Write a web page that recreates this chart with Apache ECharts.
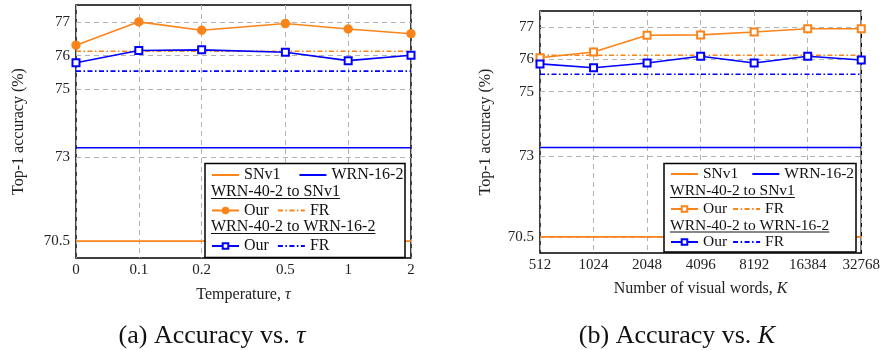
<!DOCTYPE html>
<html><head><meta charset="utf-8">
<script src="https://cdn.jsdelivr.net/npm/echarts@6/dist/echarts.min.js"></script>
<style>html,body{margin:0;padding:0;background:#fff}#c{width:883px;height:350px}</style>
</head><body><div id="c"></div>
<script>
// ---- data ----
const tauLabels = ['0', '0.1', '0.2', '0.5', '1', '2'];
const tauPos = [0, 1, 2, 10/3, 13/3, 16/3];
const kLabels = ['512', '1024', '2048', '4096', '8192', '16384', '32768'];
const kPos = [0, 1, 2, 3, 4, 5, 6];
const yTicks = [70.5, 73, 75, 76, 77];

const snv1 = 70.5;
const wrn162 = 73.27;
const frSnv1 = 76.13;
const frWrn = 75.54;

const ourSnv1Tau = [76.31, 77.0, 76.75, 76.95, 76.79, 76.65];
const ourWrnTau  = [75.79, 76.15, 76.17, 76.10, 75.85, 76.01];
const ourSnv1K = [76.05, 76.23, 76.75, 76.76, 76.85, 76.95, 76.95];
const ourWrnK  = [75.86, 75.74, 75.89, 76.10, 75.89, 76.10, 75.98];

// ---- style ----
const FONT = 'Liberation Serif';
const ORANGE = '#fa8419';
const BLUE = '#0000ff';
const DASHDOT = [5, 2.5, 1.5, 2.5];
const GRIDC = '#b2b2b2';

const chart = echarts.init(document.getElementById('c'), null, {renderer: 'canvas'});

function yAxisCfg(gridIndex, nameGap) {
  return {
    type: 'value', gridIndex, min: 70, max: 77.5,
    name: 'Top-1 accuracy (%)', nameLocation: 'middle', nameGap,
    nameTextStyle: {fontFamily: FONT, fontSize: 16, color: '#222'},
    axisLine: {show: false},
    axisTick: {show: false, customValues: yTicks},
    axisLabel: {customValues: yTicks, fontFamily: FONT, fontSize: 15, color: '#222', margin: 6},
    splitLine: {show: true, lineStyle: {type: [5, 4], color: GRIDC, width: 1}}
  };
}

function xAxisCfg(gridIndex, pos, labels, name, nameGap) {
  return {
    type: 'value', gridIndex, min: pos[0], max: pos[pos.length - 1],
    name, nameLocation: 'middle', nameGap,
    nameTextStyle: {fontFamily: FONT, fontSize: 16, color: '#222', rich: {i: {fontFamily: FONT, fontSize: 16, fontStyle: 'italic', color: '#222'}}},
    axisLine: {show: false},
    axisTick: {show: false, customValues: pos},
    axisLabel: {customValues: pos, fontFamily: FONT, fontSize: 15, color: '#222', margin: 5,
      formatter: v => { let b = 0; pos.forEach((p, i) => { if (Math.abs(p - v) < Math.abs(pos[b] - v)) b = i; }); return labels[b]; }},
    splitLine: {show: true, lineStyle: {type: [5, 4], color: GRIDC, width: 1}}
  };
}

function flatLine(xs, v) { return [[xs[0], v], [xs[xs.length - 1], v]]; }

function seriesSet(prefix, xi, xs, ourS, ourW, sSym) {
  const base = {type: 'line', xAxisIndex: xi, yAxisIndex: xi, clip: false, silent: true, animation: false};
  const pairs = arr => arr.map((v, i) => [xs[i], v]);
  return [
    Object.assign({}, base, {name: prefix + '|SNv1', data: flatLine(xs, snv1), symbol: 'none', lineStyle: {color: ORANGE, width: 1.6}, itemStyle: {color: ORANGE}}),
    Object.assign({}, base, {name: prefix + '|WRN-16-2', data: flatLine(xs, wrn162), symbol: 'none', lineStyle: {color: BLUE, width: 1.6}, itemStyle: {color: BLUE}}),
    Object.assign({}, base, {name: prefix + '|FR-S', data: flatLine(xs, frSnv1), symbol: 'none', lineStyle: {color: ORANGE, width: 1.6, type: DASHDOT}, itemStyle: {color: ORANGE}}),
    Object.assign({}, base, {name: prefix + '|FR-W', data: flatLine(xs, frWrn), symbol: 'none', lineStyle: {color: BLUE, width: 1.6, type: DASHDOT}, itemStyle: {color: BLUE}}),
    Object.assign({}, base, {name: prefix + '|Our-S', data: pairs(ourS), symbol: sSym, symbolSize: sSym === 'circle' ? 8 : 7,
      lineStyle: {color: ORANGE, width: 1.6}, itemStyle: {color: ORANGE, borderColor: ORANGE, borderWidth: 1.4}, z: 4}),
    Object.assign({}, base, {name: prefix + '|Our-W', data: pairs(ourW), symbol: 'emptyRect', symbolSize: 7,
      lineStyle: {color: BLUE, width: 1.6}, itemStyle: {color: BLUE, borderColor: BLUE, borderWidth: 1.4}, z: 4})
  ];
}

const labelOf = n => {
  const k = n.split('|')[1];
  return ({'SNv1': 'SNv1', 'WRN-16-2': 'WRN-16-2', 'FR-S': 'FR', 'FR-W': 'FR', 'Our-S': 'Our', 'Our-W': 'Our'})[k];
};

function mkLegend(names, left, cy, gap, fs) {
  return {
    data: names.map(n => /Our/.test(n) ? {name: n} : {name: n, itemStyle: {opacity: 0}}),
    left, top: cy - 8, orient: 'horizontal', padding: 0,
    itemWidth: 27, itemHeight: 7, itemGap: gap, selectedMode: false, z: 10,
    textStyle: {fontFamily: FONT, fontSize: fs, lineHeight: 16, color: '#111'},
    formatter: labelOf
  };
}

// measure text for underlines
const mctx = document.createElement('canvas').getContext('2d');
function tw(t, fs) { mctx.font = fs + 'px "' + FONT + '"'; return mctx.measureText(t).width; }

function legendGraphics(box, x, y2, y4, fs) {
  const els = [];
  els.push({type: 'rect', shape: {x: box[0], y: box[1], width: box[2], height: box[3]},
    style: {fill: '#fff', stroke: '#000', lineWidth: 1.5}, z: 8, silent: true});
  [[y2, 'WRN-40-2 to SNv1'], [y4, 'WRN-40-2 to WRN-16-2']].forEach(([cy, t]) => {
    els.push({type: 'text', x, y: cy, style: {text: t, fontFamily: FONT, fontSize: fs, fill: '#111', verticalAlign: 'middle', align: 'left'}, z: 11, silent: true});
    els.push({type: 'line', shape: {x1: x, y1: cy + 6.5, x2: x + tw(t, fs), y2: cy + 6.5}, style: {stroke: '#111', lineWidth: 1}, z: 11, silent: true});
  });
  return els;
}

const option = {
  animation: false,
  backgroundColor: '#fff',
  grid: [
    {left: 76, top: 5, width: 335, height: 253, show: true, borderColor: '#000', borderWidth: 1.5, backgroundColor: 'transparent'},
    {left: 540, top: 11, width: 323, height: 242, show: true, borderColor: '#000', borderWidth: 1.5, backgroundColor: 'transparent'}
  ],
  xAxis: [
    xAxisCfg(0, tauPos, tauLabels, 'Temperature, {i|τ}', 29),
    xAxisCfg(1, kPos, kLabels, 'Number of visual words, {i|K}', 28)
  ],
  yAxis: [yAxisCfg(0, 49), yAxisCfg(1, 46)],
  legend: [
    mkLegend(['a|SNv1', 'a|WRN-16-2'], 211, 175, 18, 16),
    mkLegend(['a|Our-S', 'a|FR-S'], 211, 210.5, 8, 16),
    mkLegend(['a|Our-W', 'a|FR-W'], 211, 246, 8, 16),
    mkLegend(['b|SNv1', 'b|WRN-16-2'], 670, 174, 13, 15.5),
    mkLegend(['b|Our-S', 'b|FR-S'], 670, 209, 5, 15.5),
    mkLegend(['b|Our-W', 'b|FR-W'], 670, 242, 5, 15.5)
  ],
  series: [].concat(
    seriesSet('a', 0, tauPos, ourSnv1Tau, ourWrnTau, 'circle'),
    seriesSet('b', 1, kPos, ourSnv1K, ourWrnK, 'emptyRect')
  ),
  graphic: [].concat(
    legendGraphics([205, 163.5, 200, 94], 211, 192, 227, 16),
    legendGraphics([664, 163.5, 192, 88.5], 670, 191, 225.5, 15.5),
    [
      {type: 'text', x: 212, y: 336, style: {text: '(a) Accuracy vs. {i|τ}', fontFamily: FONT, fontSize: 26, fill: '#111', align: 'center', verticalAlign: 'middle',
        rich: {i: {fontFamily: FONT, fontSize: 26, fontStyle: 'italic', fill: '#111'}}}, z: 11, silent: true},
      {type: 'text', x: 677, y: 336, style: {text: '(b) Accuracy vs. {i|K}', fontFamily: FONT, fontSize: 26, fill: '#111', align: 'center', verticalAlign: 'middle',
        rich: {i: {fontFamily: FONT, fontSize: 26, fontStyle: 'italic', fill: '#111'}}}, z: 11, silent: true}
    ]
  )
};
chart.setOption(option);
</script></body></html>
